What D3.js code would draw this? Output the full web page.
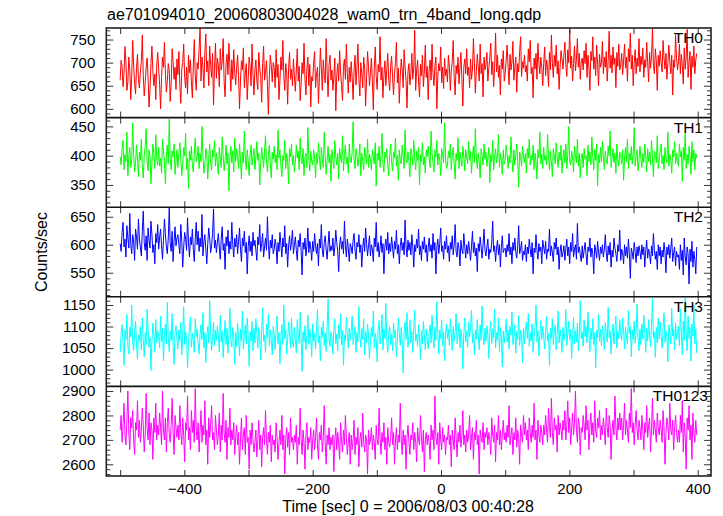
<!DOCTYPE html>
<html><head><meta charset="utf-8">
<script src="https://cdn.jsdelivr.net/npm/d3@7"></script>
<style>html,body{margin:0;padding:0;background:#fff}svg{display:block}</style>
</head><body>
<script>
// ---- data ----
const title = "ae701094010_20060803004028_wam0_trn_4band_long.qdp";
const xLabel = "Time [sec] 0 = 2006/08/03 00:40:28";
const yLabel = "Counts/sec";
const tStart = -500, tStep = 1.5;   // time bins of the light curve
const bandNames = ["TH0", "TH1", "TH2", "TH3", "TH0123"];
const bandColors = ["#ff0000", "#00ff00", "#0000ff", "#00ffff", "#ff00ff"];
const xTicks = [-500, -400, -300, -200, -100, 0, 100, 200, 300, 400];
const xTickLabels = [-400, -200, 0, 200, 400];
const yDomains = [[581, 775], [312, 465], [507, 667], [961, 1169], [2552, 2919]];
const yMajor = [[600, 650, 700, 750], [350, 400, 450], [550, 600, 650], [1000, 1050, 1100, 1150], [2600, 2700, 2800, 2900]];
const yMinorStep = [10, 10, 10, 10, 20];

const th0 = [
662,705,690,648,676,735,700,640,658,712,684,620,670,748,695,655,632,690,718,664,
645,680,702,760,672,628,655,690,710,668,604,642,698,736,680,650,675,620,694,722,
688,652,600,668,712,690,744,676,636,660,698,682,616,655,730,702,664,690,642,708,
674,724,650,612,686,700,740,668,645,690,632,716,678,706,658,624,694,750,672,640,
700,686,730,775,660,712,690,645,722,762,680,704,650,736,694,668,720,608,688,742,
666,710,694,648,730,684,702,752,660,626,696,718,674,742,690,638,706,664,728,680,
652,690,716,672,600,660,704,684,732,646,676,698,620,664,712,690,650,740,676,630,
684,706,660,642,722,688,670,614,698,736,662,680,704,650,588,672,716,694,658,700,
690,646,728,668,696,620,662,712,684,748,670,640,698,676,610,690,722,664,686,650,
708,672,638,684,730,660,692,618,654,700,676,742,664,630,688,712,650,696,604,670,
660,700,724,646,676,690,612,668,732,688,640,706,674,656,752,682,626,694,716,662,
684,640,670,710,596,672,698,660,726,680,650,618,692,708,664,740,676,634,690,658,
702,668,620,684,716,652,690,740,664,628,700,678,646,712,686,606,668,724,692,650,
676,710,660,598,688,734,670,642,696,680,756,662,690,624,672,704,650,686,720,664,
640,692,714,668,630,676,700,744,656,688,612,670,708,684,646,728,690,662,602,680,
698,652,676,720,664,690,770,640,684,706,660,626,696,672,716,648,680,738,668,692,
620,684,706,662,740,676,650,692,712,600,670,698,682,734,656,690,644,710,672,686,
658,716,690,640,682,704,748,668,630,694,676,712,654,688,722,664,606,690,708,676,
730,672,690,646,708,664,686,752,700,634,680,718,692,660,740,676,698,626,712,684,
696,722,660,688,710,742,674,702,648,690,764,680,716,668,694,630,708,686,726,660,
676,706,738,690,652,718,684,700,746,662,690,712,636,698,680,724,756,670,702,688,
716,680,694,660,730,702,748,676,690,624,710,686,720,664,742,700,676,712,690,650,
698,734,672,706,690,648,722,684,760,700,668,716,692,738,676,704,642,690,726,708,
686,716,744,696,670,728,700,772,688,714,660,698,736,682,706,752,690,720,664,702,
710,684,726,698,742,668,716,690,640,724,704,756,686,712,672,738,696,650,718,690,
700,746,676,712,690,724,660,704,768,688,716,678,734,696,710,646,722,692,740,684,
696,720,674,706,740,688,712,660,730,702,764,686,716,650,698,728,676,710,692,752,
680,714,696,732,668,706,690,744,700,658,722,688,712,774,694,676,730,704,640,716,
692,726,700,680,748,710,686,720,664,698,738,702,676,716,630,706,690,760,712,684,
702,740,676,718,694,654,732,686,710,772,668,700,724,642,714,690,736,676,706,720];

const th1 = [
398,384,412,426,376,402,390,440,366,398,414,380,392,456,402,372,388,418,396,364,
406,392,428,380,362,400,416,446,390,374,410,398,352,388,420,404,378,436,394,384,
414,382,396,370,428,408,390,352,400,418,386,462,394,376,408,398,420,368,390,410,
380,404,422,394,366,388,414,400,438,376,396,344,408,392,416,384,372,402,430,390,
396,416,378,404,390,450,398,370,386,412,402,360,394,420,388,376,410,398,426,382,
404,388,368,414,396,380,432,400,374,392,418,386,404,340,398,416,388,408,372,430,
390,412,400,378,420,394,360,406,388,442,396,376,410,392,366,402,418,384,398,412,
376,398,424,392,404,350,388,414,396,380,408,434,390,372,400,418,386,362,406,394,
416,388,402,376,444,396,410,382,364,400,392,426,378,404,388,352,412,398,420,384,
400,372,390,418,396,408,376,430,392,386,412,366,398,404,380,448,394,374,408,390,
384,410,396,362,404,386,422,398,376,414,394,380,440,400,368,392,416,388,402,356,
410,392,378,426,398,384,404,360,412,396,388,434,374,402,418,386,398,370,420,394,
388,406,458,394,378,412,400,382,396,420,366,404,390,376,414,398,386,428,380,402,
394,376,410,398,386,422,348,404,392,416,380,400,438,388,372,406,396,412,384,366,
402,420,388,374,406,396,430,382,400,358,410,392,386,418,400,378,444,394,388,406,
390,364,412,400,384,426,396,376,408,392,414,350,402,390,422,384,398,370,410,398,
416,396,380,442,404,388,372,410,398,426,384,404,392,366,412,400,388,456,396,378,
384,408,396,420,376,400,414,388,360,404,392,430,378,406,394,382,416,398,374,410,
398,386,424,392,408,370,400,416,388,446,396,378,404,390,362,412,400,384,420,394,
406,382,396,414,354,402,390,426,376,400,412,388,398,436,380,404,392,368,410,386,
392,418,404,378,400,388,432,396,372,410,384,402,420,390,346,406,398,382,416,400,
388,404,370,412,396,428,384,400,392,418,376,404,390,360,410,396,440,386,402,378,
414,392,400,384,436,398,376,408,390,364,412,400,386,422,396,380,406,392,418,370,
396,410,388,420,378,402,450,390,384,408,396,372,416,400,388,428,382,404,362,398,
404,380,412,394,400,366,418,390,406,384,432,398,376,410,392,420,348,402,388,414,
390,424,398,376,408,392,386,416,400,442,380,396,412,388,404,370,420,394,382,406,
400,386,410,358,396,414,390,428,378,404,392,416,386,400,448,382,398,410,374,392,
416,394,380,404,388,420,398,372,412,390,406,384,426,396,364,408,400,388,434,378,
392,406,420,386,400,376,414,396,388,440,382,402,394,370,410,398,424,386,404,390,
382,420,398,408,356,414,392,438,378,402,386,416,400,368,424,390,410,376,404,396];

const th2 = [
602,588,622,640,596,610,578,634,612,594,656,600,584,618,606,572,628,614,592,646,
610,596,580,624,660,604,590,616,572,630,608,594,642,618,586,600,566,620,604,636,
592,614,628,598,574,608,646,620,596,584,612,666,602,588,624,570,606,632,598,612,
618,600,584,636,606,560,596,622,610,590,648,604,578,614,600,628,592,570,610,640,
600,624,588,612,596,654,580,606,618,592,566,602,630,612,586,598,620,664,594,608,
586,604,620,596,574,610,632,590,602,556,614,598,626,584,606,592,640,600,578,612,
596,618,584,606,630,592,570,612,598,624,586,604,548,596,616,588,606,580,622,598,
608,590,572,614,600,636,588,602,620,578,596,612,590,650,598,574,608,594,618,584,
592,610,598,566,604,588,622,600,578,612,596,634,584,602,560,598,616,590,606,626,
584,600,614,590,572,608,596,620,588,546,604,592,612,580,598,630,586,606,594,572,
606,588,620,598,584,602,562,610,594,636,590,578,604,616,592,574,600,624,588,598,
590,612,580,596,626,604,588,552,600,614,592,606,584,642,598,578,610,594,570,602,
596,584,608,620,590,574,604,596,618,586,600,560,594,612,588,630,602,580,598,616,
580,600,592,570,612,596,640,588,604,578,594,616,586,602,548,596,610,590,622,584,
602,588,614,596,576,606,592,626,584,600,566,598,612,590,604,582,644,596,578,608,
590,604,582,618,596,560,600,588,610,594,628,582,598,572,606,592,614,586,600,570,
594,612,588,600,576,620,590,604,548,596,610,584,602,630,588,598,574,606,592,616,
586,598,570,604,592,616,582,600,636,588,578,604,594,562,608,590,584,620,596,576,
600,584,606,590,572,598,624,586,604,580,594,552,602,588,614,596,576,600,628,590,
580,596,610,574,592,586,604,642,588,598,570,594,608,582,600,560,596,616,586,592,
594,578,600,588,620,582,596,566,604,590,612,586,576,598,634,584,592,606,572,588,
582,600,570,596,584,610,592,578,604,548,594,586,618,590,574,602,588,596,566,608,
596,584,606,574,592,588,628,580,598,586,570,604,592,612,582,596,556,588,600,578,
586,598,572,594,610,580,596,566,604,588,620,578,592,600,574,638,586,596,582,570,
598,576,590,604,582,564,596,588,612,578,594,584,548,600,590,576,606,586,572,596,
584,600,578,592,618,586,570,598,582,604,560,590,578,612,594,584,570,600,588,626,
572,592,586,566,600,580,596,576,610,584,540,594,586,574,604,588,568,596,580,598,
588,574,600,582,596,560,590,608,576,592,584,566,598,580,620,590,574,588,556,600,
580,596,566,590,578,604,586,550,596,582,600,576,592,612,570,586,596,562,588,578,
582,556,600,572,590,546,612,578,564,596,584,530,592,570,606,560,588,574,548,596];

const th3 = [
1040,1082,1104,1060,1010,1092,1070,1128,1054,1036,1098,1076,1150,1062,1044,1088,1112,1058,1024,1080,
1066,1100,1046,1120,1072,1030,1086,1058,1140,1094,1052,1074,998,1068,1108,1084,1040,1116,1062,1090,
1078,1050,1124,1064,1096,1020,1082,1106,1060,1156,1074,1042,1090,1068,1130,1056,1012,1086,1102,1070,
1048,1092,1066,1110,1034,1080,1146,1058,1088,1072,1004,1064,1098,1122,1052,1084,1068,1040,1118,1076,
1094,1060,1036,1082,1104,1070,1132,1050,1086,1016,1078,1100,1062,1160,1088,1044,1074,1110,1056,1092,
1068,1102,1080,1042,1126,1064,1090,1028,1072,1114,1058,1096,1038,1084,1142,1070,1052,1098,1080,1012,
1086,1054,1108,1074,1032,1094,1066,1136,1048,1082,1104,1060,1120,1078,1008,1088,1066,1112,1044,1096,
1062,1118,1084,1050,1098,1072,1022,1090,1144,1066,1080,1040,1106,1074,1128,1056,1092,1070,1034,1100,
1080,1046,1096,1124,1060,1086,1014,1078,1104,1058,1150,1072,1092,1036,1068,1110,1084,1050,1120,1064,
1052,1098,1070,1038,1116,1082,1060,1134,1076,996,1088,1064,1102,1046,1080,1126,1058,1094,1072,1030,
1106,1066,1084,1048,1092,1140,1062,1078,1020,1098,1074,1112,1056,1086,1042,1100,1164,1070,1054,1088,
1074,1036,1094,1118,1060,1082,1044,1104,1072,1130,1058,1090,1010,1080,1066,1122,1084,1050,1096,1068,
1090,1124,1058,1076,1100,1040,1086,1064,1146,1078,1052,1096,1070,1118,1034,1088,1062,1106,1080,1026,
1064,1098,1076,1136,1050,1084,1070,1018,1092,1114,1060,1080,1128,1046,1094,1072,1154,1066,1040,1086,
1100,1058,1082,1044,1108,1074,1092,1030,1068,1120,1084,1056,1098,1064,992,1086,1110,1070,1132,1052,
1078,1116,1062,1088,1040,1096,1138,1066,1082,1054,1104,1074,1024,1090,1060,1112,1080,1046,1094,1070,
1048,1086,1104,1062,1126,1076,1050,1098,1068,1158,1084,1036,1092,1072,1114,1056,1088,1020,1080,1106,
1072,1094,1056,1118,1082,1044,1100,1066,1088,1130,1060,1078,1108,1050,1094,1074,1002,1086,1120,1064,
1090,1052,1110,1076,1098,1138,1062,1084,1034,1092,1070,1116,1080,1046,1104,1068,1148,1082,1058,1096,
1066,1102,1078,1026,1088,1112,1060,1094,1074,1140,1050,1086,1068,1120,1042,1098,1076,1006,1090,1062,
1084,1118,1064,1092,1048,1100,1080,1134,1058,1076,1104,1038,1088,1070,1126,1056,1092,1078,1016,1096,
1060,1094,1110,1072,1130,1054,1086,1066,1106,1040,1078,1098,1150,1064,1090,1032,1082,1114,1070,1100,
1076,1048,1092,1124,1066,1084,1010,1096,1072,1118,1058,1088,1104,1046,1080,1136,1062,1094,1074,1040,
1098,1068,1086,1140,1056,1082,1112,1070,1094,1026,1078,1122,1060,1090,1064,1108,1044,1084,1160,1072,
1088,1054,1116,1076,1100,1062,1134,1080,1042,1096,1070,1118,1058,1086,1004,1092,1074,1128,1066,1094,
1056,1102,1078,1046,1110,1086,1064,1144,1074,1090,1036,1082,1106,1060,1094,1124,1050,1088,1072,1116,
1082,1068,1120,1090,1048,1098,1076,1060,1138,1084,1100,1030,1092,1070,1112,1062,1086,1152,1074,1044,
1094,1058,1106,1072,1126,1084,1040,1096,1066,1116,1080,1054,1102,1166,1074,1088,1028,1098,1062,1120,
1070,1110,1082,1050,1096,1132,1064,1090,1076,1018,1104,1086,1060,1142,1078,1094,1046,1108,1070,1088,
1100,1056,1140,1082,1034,1112,1068,1166,1090,1044,1124,1072,1098,1020,1106,1078,1150,1060,1094,1038];

const th0123 = [
2740,2800,2690,2760,2850,2720,2680,2780,2900,2730,2660,2790,2750,2820,2700,2640,2770,2740,2860,2710,
2780,2690,2740,2830,2760,2650,2720,2890,2750,2700,2810,2680,2770,2740,2620,2790,2730,2850,2700,2760,
2720,2810,2750,2680,2900,2740,2700,2790,2650,2770,2830,2720,2690,2760,2870,2730,2640,2800,2750,2710,
2760,2700,2840,2730,2680,2790,2720,2610,2770,2740,2880,2700,2750,2660,2820,2730,2780,2690,2910,2740,
2700,2770,2650,2740,2820,2690,2760,2720,2860,2680,2740,2600,2790,2710,2760,2840,2700,2730,2660,2800,
2740,2680,2720,2810,2650,2760,2700,2890,2730,2690,2780,2620,2750,2710,2830,2680,2740,2700,2770,2640,
2710,2760,2680,2730,2600,2700,2790,2660,2720,2750,2640,2800,2690,2710,2580,2740,2680,2770,2700,2650,
2690,2740,2630,2700,2780,2660,2720,2590,2710,2750,2680,2820,2700,2640,2730,2690,2760,2610,2720,2680,
2700,2650,2770,2710,2620,2690,2740,2680,2800,2660,2720,2560,2700,2750,2670,2730,2640,2790,2690,2710,
2660,2720,2690,2760,2600,2710,2680,2830,2700,2640,2740,2690,2580,2720,2770,2660,2710,2690,2750,2620,
2700,2740,2660,2710,2790,2680,2620,2730,2700,2760,2650,2710,2840,2690,2600,2720,2680,2750,2660,2710,
2680,2720,2570,2700,2750,2660,2730,2690,2620,2770,2700,2650,2740,2680,2800,2710,2640,2690,2730,2600,
2720,2660,2700,2780,2640,2710,2680,2750,2590,2700,2730,2670,2810,2690,2650,2720,2700,2560,2740,2680,
2700,2750,2660,2720,2690,2620,2760,2700,2680,2830,2710,2640,2730,2690,2770,2660,2710,2600,2750,2690,
2670,2710,2790,2680,2730,2600,2700,2750,2660,2720,2690,2850,2700,2640,2740,2680,2720,2580,2710,2760,
2690,2640,2720,2700,2770,2660,2730,2690,2610,2750,2700,2680,2800,2710,2650,2740,2570,2700,2730,2680,
2720,2690,2620,2760,2700,2740,2660,2880,2710,2680,2730,2600,2770,2700,2660,2750,2690,2720,2640,2710,
2700,2760,2680,2720,2590,2740,2700,2660,2790,2710,2630,2730,2690,2760,2670,2710,2820,2680,2720,2650,
2740,2690,2720,2800,2660,2710,2750,2620,2730,2700,2780,2680,2720,2560,2740,2710,2690,2770,2660,2730,
2710,2750,2680,2730,2700,2640,2790,2720,2690,2760,2610,2730,2700,2800,2680,2740,2660,2720,2780,2700,
2730,2690,2760,2710,2840,2680,2720,2750,2640,2730,2700,2790,2670,2740,2710,2600,2760,2720,2690,2800,
2720,2770,2700,2740,2660,2790,2730,2690,2760,2710,2850,2700,2740,2620,2780,2720,2690,2760,2730,2680,
2760,2720,2800,2740,2690,2830,2750,2710,2870,2730,2680,2790,2740,2760,2650,2800,2720,2770,2740,2700,
2780,2740,2820,2700,2760,2860,2730,2790,2680,2750,2810,2720,2770,2900,2740,2690,2790,2760,2640,2750,
2730,2800,2760,2700,2840,2740,2780,2660,2750,2810,2720,2770,2690,2860,2740,2710,2790,2750,2820,2700,
2760,2720,2790,2740,2680,2830,2750,2710,2800,2760,2620,2740,2780,2720,2880,2750,2700,2790,2740,2810,
2740,2790,2700,2760,2850,2720,2780,2740,2690,2810,2750,2910,2730,2770,2680,2760,2820,2740,2700,2780,
2750,2700,2800,2740,2660,2770,2730,2840,2710,2760,2790,2650,2740,2870,2720,2780,2740,2690,2810,2750,
2720,2780,2740,2690,2820,2750,2600,2730,2790,2760,2700,2850,2740,2720,2780,2660,2750,2800,2730,2690,
2740,2690,2800,2730,2860,2650,2770,2720,2580,2790,2740,2840,2700,2760,2620,2810,2730,2690,2780,2720];

const series = [th0, th1, th2, th3, th0123];

// ---- layout ----
const W = 723, H = 516;
const L = 106.3, R = 711, T = 28, B = 476;
const panelH = (B - T) / 5;
const font = "'Liberation Sans', Arial, Helvetica, sans-serif";

const svg = d3.select("body").append("svg").attr("width", W).attr("height", H)
  .style("font-family", font);
svg.append("rect").attr("width", W).attr("height", H).attr("fill", "#fff");

const x = d3.scaleLinear().domain([-521.6, 420.7]).range([L, R]);
const fmtY = d3.format("d");

series.forEach((vals, i) => {
  const top = T + i * panelH, bot = top + panelH;
  const y = d3.scaleLinear().domain(yDomains[i]).range([bot, top]);
  const g = svg.append("g");

  const clipId = "clip" + i;
  svg.append("clipPath").attr("id", clipId).append("rect")
    .attr("x", L).attr("y", top).attr("width", R - L).attr("height", panelH);

  const line = d3.line().x((d, j) => x(tStart + j * tStep)).y(d => y(d));
  g.append("path").datum(vals).attr("clip-path", `url(#${clipId})`)
    .attr("d", line).attr("fill", "none").attr("stroke", bandColors[i])
    .attr("stroke-width", 1);

  const [d0, d1] = yDomains[i];
  const st = yMinorStep[i];
  const minor = d3.range(Math.ceil(d0 / st) * st, d1, st).filter(v => !yMajor[i].includes(v));

  const la = svg.append("g").attr("transform", `translate(${L},0)`)
    .call(d3.axisLeft(y).tickValues(yMajor[i]).tickSize(-7).tickPadding(11).tickFormat(fmtY));
  const lm = svg.append("g").attr("transform", `translate(${L},0)`)
    .call(d3.axisLeft(y).tickValues(minor).tickSize(-4).tickFormat(""));
  const ra = svg.append("g").attr("transform", `translate(${R},0)`)
    .call(d3.axisRight(y).tickValues(yMajor[i]).tickSize(-7).tickFormat(""));
  const rm = svg.append("g").attr("transform", `translate(${R},0)`)
    .call(d3.axisRight(y).tickValues(minor).tickSize(-4).tickFormat(""));
  const ta = svg.append("g").attr("transform", `translate(0,${top})`)
    .call(d3.axisTop(x).tickValues(xTicks).tickSize(-6).tickFormat(""));
  const ba = svg.append("g").attr("transform", `translate(0,${bot})`)
    .call(d3.axisBottom(x).tickValues(xTicks).tickSize(-6)
      .tickFormat(v => (i === 4 && xTickLabels.includes(v)) ? (v < 0 ? "\u2212" + (-v) : String(v)) : "")
      .tickPadding(7));
  [la, lm, ra, rm, ta, ba].forEach(a => {
    a.select(".domain").remove();
    a.selectAll("line").attr("stroke", "#333").attr("stroke-width", 1);
    a.selectAll("text").attr("fill", "#000").style("font-size", "15px").style("font-family", font);
  });

  svg.append("text").attr("x", i === 4 ? 708 : 703).attr("y", top + 15)
    .attr("text-anchor", "end").style("font-size", "15.5px").text(bandNames[i]);
});

// frame and panel separators
svg.append("rect").attr("x", L).attr("y", T).attr("width", R - L).attr("height", B - T)
  .attr("fill", "none").attr("stroke", "#222").attr("stroke-width", 1.6);
d3.range(1, 5).forEach(k => {
  svg.append("line").attr("x1", L).attr("x2", R)
    .attr("y1", T + k * panelH).attr("y2", T + k * panelH)
    .attr("stroke", "#111").attr("stroke-width", 1.6);
});

svg.append("text").attr("x", 107).attr("y", 20).style("font-size", "16px").text(title);
svg.append("text").attr("x", 408).attr("y", 512).attr("text-anchor", "middle")
  .style("font-size", "16px").text(xLabel);
svg.append("text").attr("transform", `translate(47,${(T + B) / 2}) rotate(-90)`)
  .attr("text-anchor", "middle").style("font-size", "16px").text(yLabel);
</script>
</body></html>
